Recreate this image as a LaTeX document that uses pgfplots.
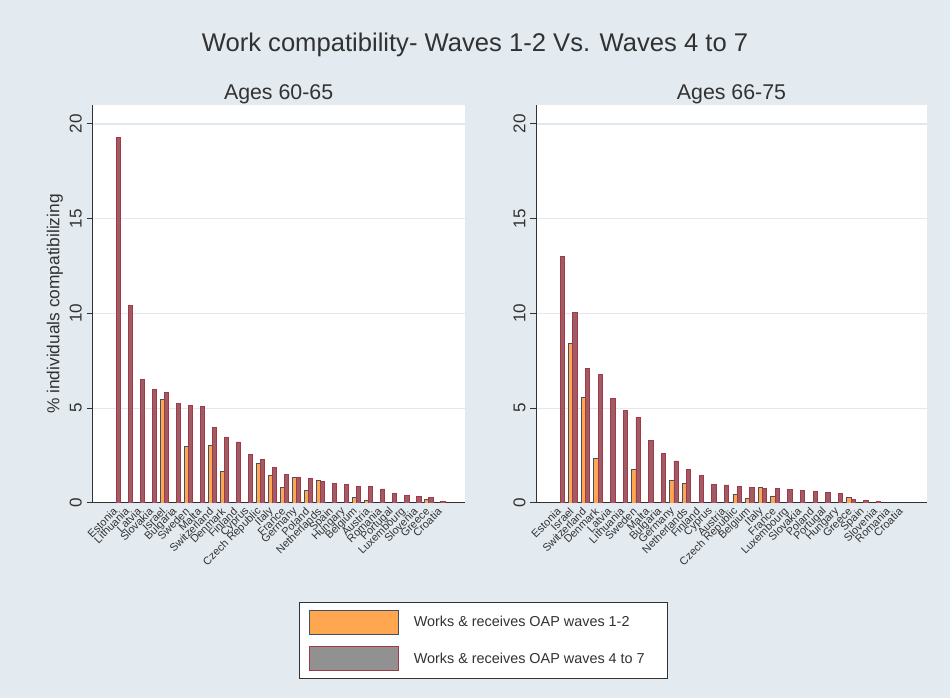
\documentclass[border=0pt]{standalone}
\usepackage{fontspec}
\setmainfont{Liberation Sans}
\usepackage{pgfplots}
\usepackage{pgfplotstable}
\pgfplotsset{compat=1.18}

\definecolor{bgc}{RGB}{228,235,240}
\definecolor{gridc}{RGB}{226,233,238}
\definecolor{orng}{RGB}{255,166,80}
\definecolor{orngline}{RGB}{70,80,100}
\definecolor{mrn}{RGB}{158,92,102}
\definecolor{mrnline}{RGB}{165,55,70}
\definecolor{legray}{RGB}{145,145,145}
\definecolor{txt}{RGB}{50,50,50}

% Ages 60-65
\pgfplotstableread{
idx w12 w47
0  nan  19.3
1  nan  10.4
2  nan  6.5
3  nan  6.0
4  5.45 5.85
5  nan  5.25
6  3.0  5.17
7  nan  5.08
8  3.02 3.97
9  1.65 3.45
10 nan  3.22
11 nan  2.54
12 2.1  2.31
13 1.43 1.88
14 0.8  1.52
15 1.37 1.36
16 0.68 1.31
17 1.17 1.14
18 nan  1.03
19 nan  0.96
20 0.3  0.88
21 0.12 0.86
22 nan  0.74
23 nan  0.52
24 nan  0.39
25 nan  0.35
26 0.18 0.3
27 nan  0.07
}\younger

% Ages 66-75
\pgfplotstableread{
idx w12 w47
0  nan  13.02
1  8.4  10.03
2  5.55 7.09
3  2.36 6.77
4  nan  5.51
5  nan  4.9
6  1.78 4.5
7  nan  3.31
8  nan  2.6
9  1.21 2.22
10 1.05 1.78
11 nan  1.43
12 nan  1.0
13 nan  0.95
14 0.46 0.88
15 0.23 0.81
16 0.8  0.78
17 0.37 0.78
18 nan  0.73
19 nan  0.65
20 nan  0.59
21 nan  0.54
22 nan  0.49
23 0.3  0.19
24 nan  0.14
25 nan  0.06
}\older

\pgfplotsset{panel/.style={
  scale only axis, height=298.5pt,
  ymin=0, ymax=21, ytick={0,5,...,20},
  axis x line*=bottom, axis y line*=left,
  axis line style={draw=txt, line width=0.75pt, -},
  ymajorgrids, grid style={gridc, line width=0.9pt},
  axis background/.style={fill=white},
  tick align=outside, major tick length=4.3pt,
  y tick style={draw=txt, line width=0.75pt},
  x tick style={draw=none},
  xtick={0,...,27},
  /pgf/number format/assume math mode=true,
  yticklabel style={rotate=90, anchor=south, font=\fontsize{12.8}{14}\selectfont, text=txt},
  xticklabel style={rotate=45, anchor=east, font=\fontsize{8.2}{9}\selectfont, text=txt, inner sep=1pt},
  title style={at={(0.5,1)}, anchor=center, yshift=2.25pt, font=\fontsize{16}{19}\selectfont, text=txt},
  ybar, bar width=0.34,
}}

\begin{document}
\begin{tikzpicture}
\fill[bgc] (0,0) rectangle (712.5pt,523.5pt);
\node[font=\fontsize{19.2}{23}\selectfont, text=txt] at (356.25pt,489.75pt)
  {Work compatibility- Waves 1-2 Vs. Waves 4 to 7};

\begin{axis}[panel,
  at={(69.2pt,146.25pt)}, anchor=south west, width=279.5pt,
  xmin=-2, xmax=29,
  title={Ages 60-65},
  ylabel={\% individuals compatibilizing},
  ylabel style={at={(axis description cs:-0.1,0.5)}, anchor=center,
    font=\fontsize{13}{15}\selectfont, text=txt},
  xticklabels={Estonia,Lithuania,Latvia,Slovakia,Israel,Bulgaria,Sweden,Malta,
    Switzerland,Denmark,Finland,Cyprus,Czech Republic,Italy,France,Germany,Poland,
    Netherlands,Spain,Hungary,Belgium,Austria,Romania,Portugal,Luxembourg,Slovenia,
    Greece,Croatia},
  legend style={at={(0.5554,-0.2495)}, anchor=north west, draw=txt, fill=white,
    line width=0.75pt, font=\fontsize{10.8}{13}\selectfont, text=txt,
    inner xsep=7pt, inner ysep=5.5pt, row sep=8.5pt},
  legend cell align=left,
]
\addplot[fill=orng, draw=orngline, line width=0.6pt, bar shift=-0.17,
  legend image code/.code={\draw[fill=orng, draw=orngline, line width=0.75pt] (0pt,-9pt) rectangle (66.75pt,9pt);}]
  table[x=idx, y=w12] {\younger};
\addlegendentry{\hspace{9pt}\makebox[181pt][l]{Works \& receives OAP waves 1-2}}
\addplot[fill=mrn, draw=mrnline, line width=0.6pt, bar shift=0.17,
  legend image code/.code={\draw[fill=legray, draw=mrnline, line width=0.75pt] (0pt,-9pt) rectangle (66.75pt,9pt);}]
  table[x=idx, y=w47] {\younger};
\addlegendentry{\hspace{9pt}\makebox[181pt][l]{Works \& receives OAP waves 4 to 7}}
\end{axis}

\begin{axis}[panel,
  at={(402pt,146.25pt)}, anchor=south west, width=293.25pt,
  xmin=-1.9, xmax=29,
  title={Ages 66-75},
  xticklabels={Estonia,Israel,Switzerland,Denmark,Latvia,Lithuania,Sweden,Malta,
    Bulgaria,Germany,Netherlands,Finland,Cyprus,Austria,Czech Republic,Belgium,Italy,
    France,Luxembourg,Slovakia,Poland,Portugal,Hungary,Greece,Spain,Slovenia,
    Romania,Croatia},
]
\addplot[fill=orng, draw=orngline, line width=0.6pt, bar shift=-0.17]
  table[x=idx, y=w12] {\older};
\addplot[fill=mrn, draw=mrnline, line width=0.6pt, bar shift=0.17]
  table[x=idx, y=w47] {\older};
\end{axis}

\pgfresetboundingbox
\path[use as bounding box] (0,0) rectangle (712.5pt,523.5pt);
\end{tikzpicture}
\end{document}
